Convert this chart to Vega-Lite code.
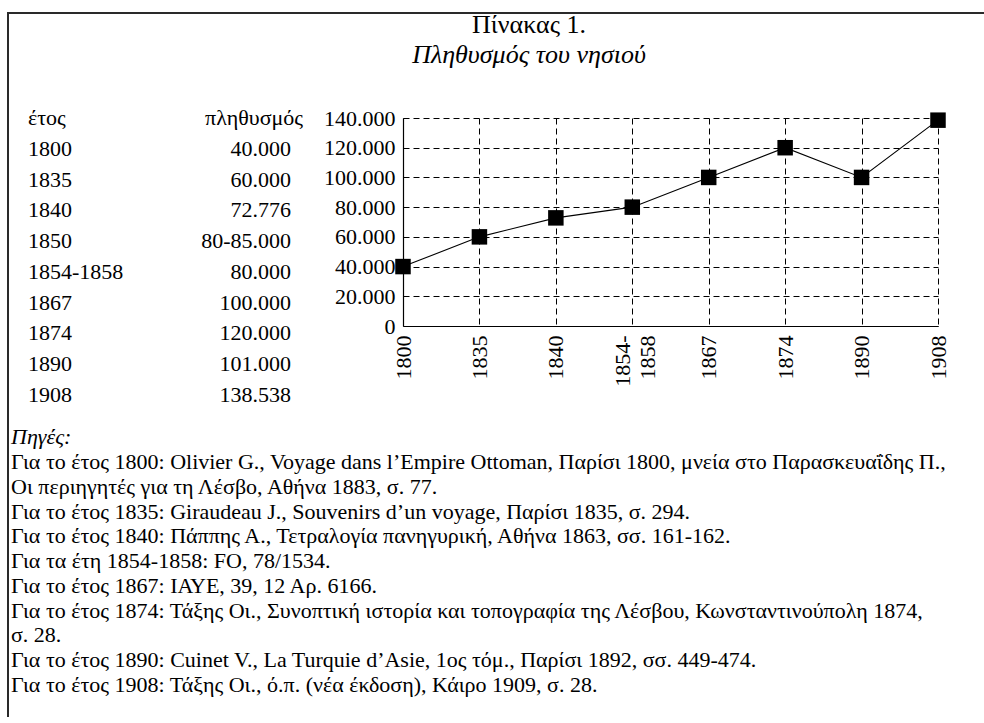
{
  "$schema": "https://vega.github.io/schema/vega-lite/v6.json",
  "background": "white",
  "padding": {"left": 7, "top": 12, "right": 0, "bottom": 0},
  "config": {
    "locale": {"number": {"decimal": ",", "thousands": ".", "grouping": [3], "currency": ["", " €"]}},
    "view": {"stroke": null},
    "font": "Liberation Serif",
    "axis": {
      "labelFont": "Liberation Serif",
      "labelFontSize": 22,
      "labelColor": "black",
      "domainColor": "black",
      "domainWidth": 1.2,
      "grid": true,
      "gridColor": "black",
      "gridDash": [6, 4],
      "gridWidth": 1,
      "gridOpacity": 1,
      "ticks": false,
      "title": null
    }
  },
  "spacing": 0,
  "hconcat": [
    {
      "width": 2,
      "height": 705,
      "view": {"fill": "#2a2a2a", "stroke": null},
      "data": {"values": []},
      "mark": "text",
      "encoding": {}
    },
    {
      "spacing": -2,
      "vconcat": [
        {
          "width": 975,
          "height": 2,
          "view": {"fill": "#2a2a2a", "stroke": null},
          "data": {"values": []},
          "mark": "text",
          "encoding": {}
        },
        {
          "spacing": 20,
          "vconcat": [
            {
              "title": {
                "text": "Πίνακας 1.",
                "subtitle": "Πληθυσμός του νησιού",
                "anchor": "middle",
                "dx": 50,
                "font": "Liberation Serif",
                "fontSize": 26,
                "fontWeight": "normal",
                "color": "black",
                "subtitleFont": "Liberation Serif",
                "subtitleFontSize": 26,
                "subtitleFontStyle": "italic",
                "subtitleColor": "black",
                "subtitlePadding": 4,
                "offset": 39
              },
              "spacing": 13,
              "hconcat": [
                {
                  "width": 301,
                  "height": 277,
                  "data": {"values": [
                    {"year": "έτος", "pop": "πληθυσμός"},
                    {"year": "1800", "pop": "40.000"},
                    {"year": "1835", "pop": "60.000"},
                    {"year": "1840", "pop": "72.776"},
                    {"year": "1850", "pop": "80-85.000"},
                    {"year": "1854-1858", "pop": "80.000"},
                    {"year": "1867", "pop": "100.000"},
                    {"year": "1874", "pop": "120.000"},
                    {"year": "1890", "pop": "101.000"},
                    {"year": "1908", "pop": "138.538"}
                  ]},
                  "encoding": {
                    "y": {"field": "year", "type": "nominal", "sort": null, "scale": {"type": "point", "padding": 0}, "axis": null}
                  },
                  "layer": [
                    {
                      "mark": {"type": "text", "align": "left", "baseline": "middle", "fontSize": 22, "font": "Liberation Serif", "color": "black"},
                      "encoding": {
                        "x": {"datum": "year", "type": "nominal", "scale": {"type": "point", "padding": 0.0722, "domain": ["year", "pop"]}, "axis": null},
                        "text": {"field": "year"}
                      }
                    },
                    {
                      "transform": [{"filter": "datum.year != 'έτος'"}],
                      "mark": {"type": "text", "align": "right", "baseline": "middle", "fontSize": 22, "font": "Liberation Serif", "color": "black"},
                      "encoding": {
                        "x": {"datum": "pop", "type": "nominal"},
                        "text": {"field": "pop"}
                      }
                    },
                    {
                      "transform": [{"filter": "datum.year == 'έτος'"}],
                      "mark": {"type": "text", "align": "right", "baseline": "middle", "fontSize": 22, "font": "Liberation Serif", "color": "black", "dx": 12},
                      "encoding": {
                        "x": {"datum": "pop", "type": "nominal"},
                        "text": {"field": "pop"}
                      }
                    }
                  ]
                },
                {
                  "width": 535,
                  "height": 208,
                  "data": {"values": [
                    {"year": "1800", "population": 40000},
                    {"year": "1835", "population": 60000},
                    {"year": "1840", "population": 72776},
                    {"year": "1854-1858", "population": 80000},
                    {"year": "1867", "population": 100000},
                    {"year": "1874", "population": 120000},
                    {"year": "1890", "population": 100000},
                    {"year": "1908", "population": 138538}
                  ]},
                  "encoding": {
                    "x": {
                      "field": "year", "type": "nominal", "sort": null,
                      "scale": {"type": "point", "padding": 0},
                      "axis": {
                        "labelAngle": -90,
                        "labelPadding": 9,
                        "labelOverlap": false,
                        "labelLineHeight": 25,
                        "labelOffset": {"condition": {"test": "datum.value == '1854-1858'", "value": -10}, "value": 0},
                        "labelExpr": "datum.value == '1854-1858' ? ['1854-', '1858'] : datum.value"
                      }
                    },
                    "y": {
                      "field": "population", "type": "quantitative",
                      "scale": {"domain": [0, 140000], "nice": false},
                      "axis": {
                        "values": [0, 20000, 40000, 60000, 80000, 100000, 120000, 140000],
                        "format": ",.0f",
                        "labelPadding": 8
                      }
                    }
                  },
                  "layer": [
                    {"mark": {"type": "line", "color": "black", "strokeWidth": 1.1}},
                    {"mark": {"type": "point", "shape": "square", "filled": true, "size": 240, "color": "black", "opacity": 1}}
                  ]
                }
              ]
            },
            {
              "width": 900,
              "height": 223,
              "title": {"text": "Πηγές:", "anchor": "start", "dx": 2, "fontStyle": "italic", "fontWeight": "normal", "fontSize": 22, "font": "Liberation Serif", "color": "black", "offset": 2},
              "data": {"values": [
                {"line": 1, "text": "Για το έτος 1800: Olivier G., Voyage dans l’Empire Ottoman, Παρίσι 1800, μνεία στο Παρασκευαΐδης Π.,"},
                {"line": 2, "text": "Οι περιηγητές για τη Λέσβο, Αθήνα 1883, σ. 77."},
                {"line": 3, "text": "Για το έτος 1835: Giraudeau J., Souvenirs d’un voyage, Παρίσι 1835, σ. 294."},
                {"line": 4, "text": "Για το έτος 1840: Πάππης Α., Τετραλογία πανηγυρική, Αθήνα 1863, σσ. 161-162."},
                {"line": 5, "text": "Για τα έτη 1854-1858: FO, 78/1534."},
                {"line": 6, "text": "Για το έτος 1867: ΙΑΥΕ, 39, 12 Αρ. 6166."},
                {"line": 7, "text": "Για το έτος 1874: Τάξης Οι., Συνοπτική ιστορία και τοπογραφία της Λέσβου, Κωνσταντινούπολη 1874,"},
                {"line": 8, "text": "σ. 28."},
                {"line": 9, "text": "Για το έτος 1890: Cuinet V., La Turquie d’Asie, 1ος τόμ., Παρίσι 1892, σσ. 449-474."},
                {"line": 10, "text": "Για το έτος 1908: Τάξης Οι., ό.π. (νέα έκδοση), Κάιρο 1909, σ. 28."}
              ]},
              "mark": {"type": "text", "align": "left", "baseline": "middle", "fontSize": 22, "font": "Liberation Serif", "color": "black", "dx": 2},
              "encoding": {
                "y": {"field": "line", "type": "ordinal", "scale": {"type": "point", "padding": 0}, "axis": null},
                "x": {"datum": 0, "type": "quantitative", "scale": {"domain": [0, 1]}, "axis": null},
                "text": {"field": "text"}
              }
            }
          ]
        }
      ]
    }
  ]
}
